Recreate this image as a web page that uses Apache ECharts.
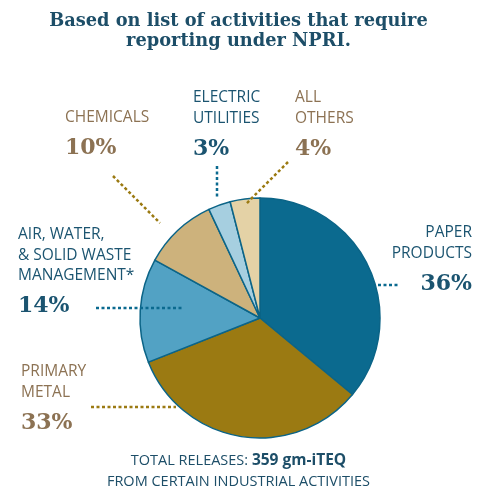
<!DOCTYPE html>
<html><head><meta charset="utf-8">
<script src="https://cdn.jsdelivr.net/npm/echarts@6/dist/echarts.min.js"></script>
<style>html,body{margin:0;padding:0;background:#fff}#c{width:477px;height:491px}</style>
</head><body><div id="c"></div>
<script>
const categories = ['PAPER PRODUCTS','PRIMARY METAL','AIR, WATER, & SOLID WASTE MANAGEMENT*','CHEMICALS','ELECTRIC UTILITIES','ALL OTHERS'];
const labelLines = [['PAPER','PRODUCTS'],['PRIMARY','METAL'],['AIR, WATER,','& SOLID WASTE','MANAGEMENT*'],['CHEMICALS'],['ELECTRIC','UTILITIES'],['ALL','OTHERS']];
const values = [36, 33, 14, 10, 3, 4];
const colors = ['#0b6a8f','#9b7a12','#52a2c4','#cdb27c','#a6cfe0','#e4d2a6'];
const titleLines = ['Based on list of activities that require','reporting under NPRI.'];
const totalValue = '359 gm-iTEQ';

const teal = '#1b5470', brown = '#8c7253', gold = '#9b7a12', lineTeal = '#0b6a8f';
const sans = '"Open Sans", "Noto Sans", sans-serif';
const serif = '"DejaVu Serif", serif';

const labelPos = [
  {x:472, y:233, align:'right', color:teal},
  {x:21, y:372, align:'left', color:brown},
  {x:18, y:235, align:'left', color:teal},
  {x:65, y:118, align:'left', color:brown},
  {x:193, y:98, align:'left', color:teal},
  {x:295, y:98, align:'left', color:brown}
];
const leaders = [
  {pts:[[378,285],[398,285]], color:lineTeal},
  {pts:[[91,407],[176,407]], color:gold},
  {pts:[[96,308],[183,308]], color:lineTeal},
  {pts:[[113,176],[160,223]], color:gold},
  {pts:[[217,166],[217,197]], color:lineTeal},
  {pts:[[288,162],[246,204]], color:gold}
];

const graphics = [];
titleLines.forEach((t,i)=>graphics.push({type:'text', left:'center', top:12+i*20,
  style:{text:t, fill:'#1d4e68', font:'bold 17.8px '+serif}}));
labelLines.forEach((lines,i)=>{
  const p = labelPos[i];
  lines.forEach((ln,j)=>graphics.push({type:'text', x:p.x, y:p.y+j*20.5,
    style:{text:ln, fill:p.color, font:'15.5px '+sans, textAlign:p.align, textVerticalAlign:'middle'}}));
  graphics.push({type:'text', x:p.x, y:p.y+lines.length*20.5+10,
    style:{text:values[i]+'%', fill:p.color, font:'bold 22px '+serif, textAlign:p.align, textVerticalAlign:'middle'}});
});
leaders.forEach(l=>graphics.push({type:'polyline', shape:{points:l.pts}, z:10,
  style:{stroke:l.color, lineWidth:2.5, lineDash:[3,2.5], fill:null}}));
graphics.push({type:'text', left:'center', top:453, style:{rich:{a:{font:'14.5px '+sans, fill:'#1d4e68'}, b:{font:'bold 15.5px '+sans, fill:'#1d4e68'}}, text:'{a|TOTAL RELEASES: }{b|'+totalValue+'}'}});
graphics.push({type:'text', left:'center', top:474, style:{text:'FROM CERTAIN INDUSTRIAL ACTIVITIES', font:'14.5px '+sans, fill:'#1d4e68'}});

const chart = echarts.init(document.getElementById('c'), null, {renderer:'canvas'});
chart.setOption({
  animation:false,
  color: colors,
  series:[{type:'pie', center:[260,318], radius:120, startAngle:90, clockwise:true,
    label:{show:false}, labelLine:{show:false}, emphasis:{disabled:true},
    itemStyle:{borderColor:'#0b6487', borderWidth:1.5},
    data: categories.map((c,i)=>({name:c, value:values[i]}))}],
  graphic: graphics
});
</script></body></html>
